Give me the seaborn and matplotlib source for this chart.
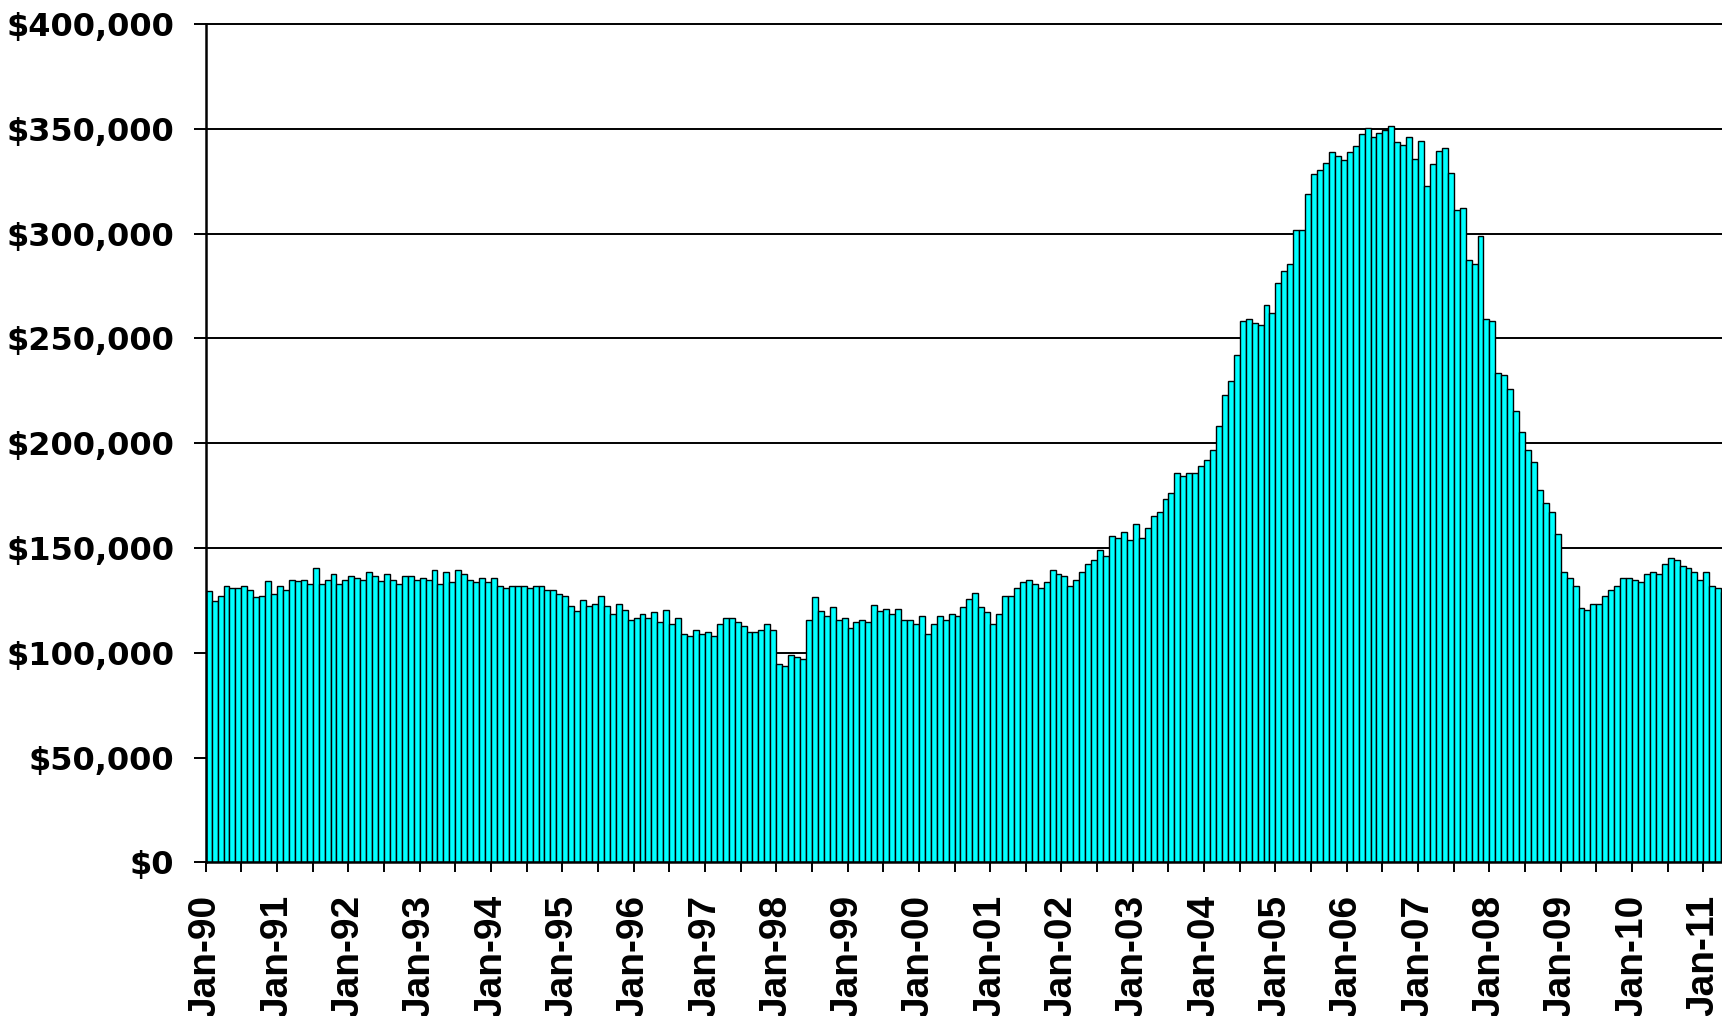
import numpy as np
import pandas as pd
import matplotlib
matplotlib.use("Agg")
import matplotlib.pyplot as plt
import seaborn as sns
from matplotlib.ticker import FuncFormatter

# Monthly median price, Jan-1990 .. Apr-2011
p1990 = [129300, 124500, 127200, 132000, 131000, 131000, 132000, 130000, 126400, 127200, 134000, 128200]
p1991 = [132000, 130000, 134900, 134000, 134900, 133000, 140600, 133000, 134900, 137700, 133000, 134900]
p1992 = [136800, 135800, 134900, 138700, 136800, 134000, 137700, 134900, 133000, 136800, 136800, 134900]
p1993 = [135800, 134900, 139600, 133000, 138700, 133900, 139600, 137700, 134900, 133900, 135800, 133900]
p1994 = [135800, 132000, 131000, 132000, 132000, 132000, 131000, 132000, 132000, 130100, 130100, 128200]
p1995 = [127200, 122500, 119700, 125300, 122500, 123400, 127200, 122500, 118600, 123400, 120500, 115800]
p1996 = [116700, 118600, 116700, 119600, 114800, 120500, 113900, 116700, 109100, 108100, 111000, 109100]
p1997 = [110000, 108100, 113900, 116700, 116700, 114800, 112900, 110000, 110000, 111000, 113900, 111000]
p1998 = [94700, 93800, 99000, 97900, 97000, 115800, 126400, 119700, 117700, 121700, 115800, 116700]
p1999 = [111900, 114800, 115800, 114800, 122600, 119700, 120700, 118600, 120700, 115800, 115800, 113900]
p2000 = [117700, 109100, 113900, 117700, 115800, 118600, 117700, 121700, 125500, 128500, 121700, 119600]
p2001 = [113900, 118600, 127200, 127200, 131100, 133900, 134900, 133000, 131100, 133900, 139600, 137700]
p2002 = [136800, 132000, 134900, 138700, 142500, 144400, 149200, 146300, 155600, 154600, 157500, 153700]
p2003 = [161600, 154600, 159400, 165100, 167000, 173400, 176300, 185800, 184200, 185800, 185800, 189000]
p2004 = [191900, 196700, 208100, 223100, 229600, 242000, 258300, 259100, 257200, 256200, 265900, 262100]
p2005 = [276300, 282000, 285700, 301600, 301600, 318800, 328300, 330300, 333900, 338700, 336800, 334900]
p2006 = [338700, 341600, 347300, 350200, 346300, 348200, 349200, 351100, 343500, 342500, 346300, 335800]
p2007 = [344400, 322800, 333100, 339600, 340600, 329100, 311300, 312100, 287400, 285500, 298900, 259100]
p2008 = [258100, 233600, 232500, 225600, 215300, 205100, 196500, 190900, 177500, 171500, 167000, 156700]
p2009 = [138700, 135800, 132000, 121500, 120500, 123400, 123400, 127200, 130100, 132000, 135800, 135800]
p2010 = [134900, 133900, 137700, 138700, 137700, 142500, 145400, 144400, 141600, 140600, 138700, 134900]
p2011 = [138700, 132000, 131000, 129100]

tick_labels = ["Jan-90", "Jan-91", "Jan-92", "Jan-93", "Jan-94", "Jan-95", "Jan-96",
               "Jan-97", "Jan-98", "Jan-99", "Jan-00", "Jan-01", "Jan-02", "Jan-03",
               "Jan-04", "Jan-05", "Jan-06", "Jan-07", "Jan-08", "Jan-09", "Jan-10",
               "Jan-11"]

prices = (p1990 + p1991 + p1992 + p1993 + p1994 + p1995 + p1996 + p1997 + p1998 +
          p1999 + p2000 + p2001 + p2002 + p2003 + p2004 + p2005 + p2006 + p2007 +
          p2008 + p2009 + p2010 + p2011)
months = pd.date_range("1990-01-01", periods=len(prices), freq="MS")
df = pd.DataFrame({"month": months.strftime("%b-%y"), "price": prices})

sns.set_theme(style="white")
plt.rcParams['font.family'] = ['Liberation Sans', 'DejaVu Sans']

W, H = 1722, 1016
fig = plt.figure(figsize=(W / 100, H / 100), dpi=100)
fig.patch.set_facecolor("white")
left_px, top_px, bottom_px = 205.7, 24.0, 862.3
ax = fig.add_axes([left_px / W, 1 - bottom_px / H, 1 - left_px / W, (bottom_px - top_px) / H])

sns.barplot(data=df, x="month", y="price", color="#00FFFF", saturation=1,
            width=1.0, edgecolor="black", linewidth=1.0, ax=ax)

n = len(prices)
ax.set_xlim(-0.5, -0.5 + (W - left_px) / 5.943)
ax.set_ylim(0, 400000)
ax.set_yticks(np.arange(0, 400001, 50000))
ax.yaxis.set_major_formatter(FuncFormatter(lambda v, p: f"${v:,.0f}"))

tick_pos = np.arange(-0.5, n, 6)
labels = [tick_labels[k // 2] if k % 2 == 0 else "" for k in range(len(tick_pos))]
ax.set_xticks(tick_pos)
ax.set_xticklabels(labels, rotation=90)

ax.set_xlabel("")
ax.set_ylabel("")
ax.set_axisbelow(True)
ax.yaxis.grid(True, color="black", linewidth=1.4)
ax.xaxis.grid(False)
for gl in ax.get_ygridlines():
    gl.set_clip_on(False)

for s in ["top", "right"]:
    ax.spines[s].set_visible(False)
for s in ["left", "bottom"]:
    ax.spines[s].set_color("black")
    ax.spines[s].set_linewidth(1.8)

ax.tick_params(axis="y", left=True, direction="out", length=8.6, width=1.4,
               color="black", pad=14)
ax.tick_params(axis="x", bottom=True, direction="out", length=7.5, width=1.4,
               color="black", pad=16)

for lbl in ax.get_yticklabels():
    lbl.set_fontfamily(["DejaVu Sans"])
    lbl.set_fontweight("heavy")
    lbl.set_fontsize(23)
    lbl.set_color("black")
for lbl in ax.get_xticklabels():
    lbl.set_fontfamily(["Liberation Sans", "DejaVu Sans"])
    lbl.set_fontweight("bold")
    lbl.set_fontsize(28)
    lbl.set_color("black")

fig.savefig("out.png", dpi=100, facecolor="white")
